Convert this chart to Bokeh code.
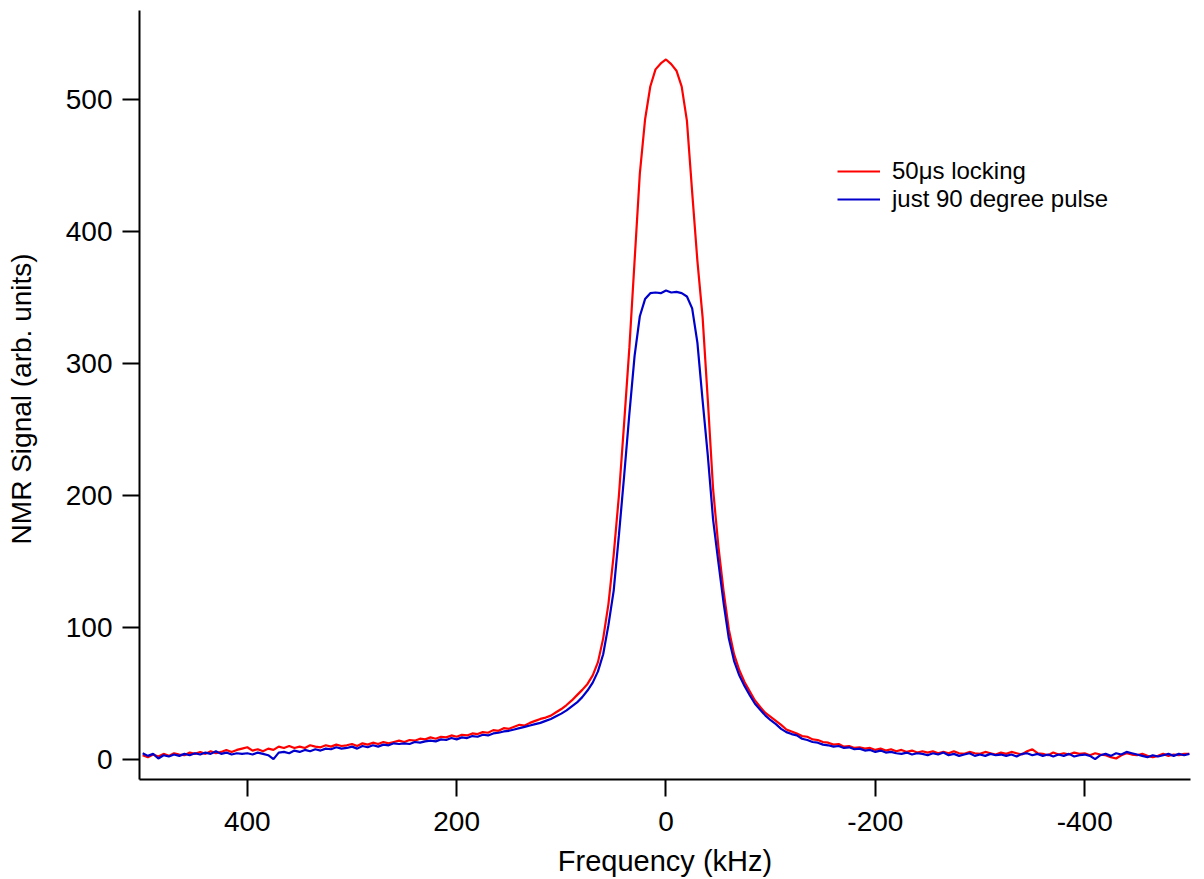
from bokeh.plotting import figure
from bokeh.models import Range1d, FixedTicker, Legend, LegendItem
from bokeh.embed import file_html
from bokeh.resources import INLINE

# Frequency grid (kHz), descending, 5 kHz step
freq = list(range(500, -501, -5))

# "50μs locking" (red), 500 -> -500 kHz
locking = [
    3.5, 2.0, 4.0, 2.5, 4.5, 3.0, 5.0, 4.0, 3.5, 5.5,
    4.5, 6.0, 4.5, 6.5, 5.0, 6.0, 7.5, 6.0, 7.5, 8.5,
    9.5, 7.0, 8.0, 6.5, 8.5, 7.5, 10.0, 9.0, 10.5, 9.0,
    10.0, 9.0, 11.0, 10.0, 9.5, 11.0, 10.0, 11.5, 10.5, 11.0,
    12.0, 10.5, 12.5, 11.5, 13.0, 12.0, 13.5, 12.5, 13.5, 14.5,
    13.5, 15.0, 14.5, 16.0, 15.5, 17.0, 16.0, 17.5, 17.0, 18.5,
    17.5, 19.0, 18.5, 20.0, 19.5, 21.0, 20.5, 22.5, 22.0, 24.0,
    23.5, 25.0, 26.5, 26.0, 28.0, 29.5, 31.0, 32.0, 33.5, 36.0,
    38.5, 41.5, 45.0, 49.0, 53.0, 57.5, 64.0, 74.0, 92.0, 118.0,
    155.0, 200.0, 255.0, 312.0, 378.0, 444.0, 485.0, 510.0, 523.0, 527.5,
    530.5, 527.0, 522.0, 510.0, 484.0, 430.0, 378.0, 335.0, 272.0, 205.0,
    162.0, 128.0, 99.0, 80.0, 68.0, 59.0, 52.0, 45.0, 40.0, 35.5,
    32.5, 29.5, 26.5, 23.0, 21.5, 20.0, 18.0, 17.5, 15.5, 15.0,
    13.5, 13.0, 11.5, 12.0, 10.0, 10.5, 9.0, 9.5, 8.5, 9.0,
    7.5, 8.5, 7.0, 8.0, 6.5, 7.5, 6.0, 7.0, 5.5, 6.5,
    5.5, 6.5, 5.0, 6.0, 5.0, 6.5, 5.0, 4.5, 6.0, 5.0,
    4.5, 6.0, 5.0, 4.0, 5.5, 4.5, 6.0, 5.0, 4.0, 6.5,
    8.0, 5.0, 4.5, 3.5, 5.5, 4.0, 5.0, 4.0, 5.5, 4.5,
    5.0, 3.5, 5.0, 4.0, 3.5, 2.0, 1.0, 3.5, 5.0, 4.0,
    3.5, 4.5, 3.0, 2.0, 3.0, 4.5, 3.0, 4.0, 3.5, 4.5,
    4.5,
]

# "just 90 degree pulse" (blue)
pulse90 = [
    5.0, 3.0, 4.5, 1.0, 3.5, 2.5, 4.0, 3.0, 4.5, 3.5,
    5.0, 4.0, 5.5, 4.5, 6.5, 4.5, 5.5, 4.0, 5.0, 4.5,
    5.0, 4.0, 5.5, 4.5, 3.5, 0.5, 5.5, 6.0, 5.0, 7.0,
    6.0, 7.5, 6.5, 8.0, 7.0, 8.5, 8.0, 9.5, 8.5, 9.0,
    10.0, 8.5, 10.5, 9.5, 11.0, 10.0, 11.5, 11.0, 12.5, 12.0,
    12.5, 12.0, 13.5, 13.0, 14.0, 14.5, 14.0, 15.5, 15.0, 16.5,
    15.5, 17.0, 16.5, 18.0, 17.5, 19.0, 18.5, 20.0, 20.5, 21.5,
    22.0, 23.0, 24.0, 25.0, 26.0, 27.0, 28.0, 29.5, 31.0, 33.0,
    35.0, 37.5, 40.5, 43.5, 47.5, 52.5, 58.5, 67.0, 80.0, 102.0,
    128.0, 170.0, 215.0, 262.0, 306.0, 336.0, 349.0, 353.5, 354.0, 353.5,
    355.5, 354.0, 354.5, 353.5, 351.0, 342.0, 316.0, 272.0, 230.0, 182.0,
    150.0, 119.0, 92.0, 75.0, 64.0, 56.0, 49.0, 42.5, 38.0, 33.5,
    30.0, 27.0, 23.5, 21.0, 19.5, 18.5, 16.0, 15.0, 13.5, 13.0,
    11.5, 11.0, 10.0, 10.5, 9.0, 9.5, 8.0, 8.5, 7.0, 7.5,
    6.0, 7.0, 5.5, 6.0, 5.0, 4.5, 5.5, 4.0, 5.0, 4.5,
    3.5, 5.0, 4.0, 5.5, 3.5, 4.5, 3.0, 4.0, 5.0, 3.0,
    4.0, 3.0, 4.5, 3.5, 4.0, 3.0, 4.0, 2.5, 4.5, 5.0,
    3.5, 4.5, 3.0, 4.0, 2.5, 4.0, 3.0, 4.5, 2.5, 3.5,
    4.0, 3.0, 0.5, 3.5, 4.5, 3.0, 5.0, 4.0, 6.0, 5.0,
    4.0, 3.0, 2.0, 3.5, 2.5, 3.5, 4.5, 3.0, 4.5, 3.5,
    4.5,
]

x_ticks = [400, 200, 0, -200, -400]
x_tick_labels = ["400", "200", "0", "-200", "-400"]
y_ticks = [0, 100, 200, 300, 400, 500]
series_names = ["50\u03bcs locking", "just 90 degree pulse"]
x_title = "Frequency (kHz)"
y_title = "NMR Signal  (arb. units)"

FONT = "Liberation Sans"

p = figure(
    width=1204, height=879,
    x_range=Range1d(503, -501.1), y_range=Range1d(-14.9, 567.6),
    output_backend="svg", toolbar_location=None,
    min_border_left=139, min_border_right=14, min_border_top=10, min_border_bottom=100,
)
p.outline_line_color = None
p.xgrid.visible = False
p.ygrid.visible = False
p.background_fill_color = "white"
p.border_fill_color = "white"

r_red = p.line(freq, locking, line_color="#ff0000", line_width=2.2)
r_blue = p.line(freq, pulse90, line_color="#0000cc", line_width=2.2)

for ax, ticks in ((p.xaxis[0], x_ticks), (p.yaxis[0], y_ticks)):
    ax.ticker = FixedTicker(ticks=ticks, minor_ticks=[])
    ax.axis_line_width = 2
    ax.axis_line_color = "black"
    ax.major_tick_line_width = 2
    ax.major_tick_line_color = "black"
    ax.major_tick_out = 17
    ax.major_tick_in = 0
    ax.minor_tick_out = 0
    ax.minor_tick_in = 0
    ax.major_label_text_font = FONT
    ax.major_label_text_font_size = "28px"
    ax.major_label_text_color = "black"
    ax.axis_label_text_font = FONT
    ax.axis_label_text_font_style = "normal"
    ax.axis_label_text_color = "black"

p.xaxis[0].major_label_overrides = {t: s for t, s in zip(x_ticks, x_tick_labels)}
p.xaxis[0].axis_label = x_title
p.xaxis[0].axis_label_text_font_size = "29px"
p.yaxis[0].axis_label = y_title
p.yaxis[0].axis_label_text_font_size = "28px"
p.xaxis[0].major_label_standoff = 15
p.xaxis[0].axis_label_standoff = 11
p.yaxis[0].major_label_standoff = 10
p.yaxis[0].axis_label_standoff = 26

legend = Legend(
    items=[LegendItem(label=series_names[0], renderers=[r_red]),
           LegendItem(label=series_names[1], renderers=[r_blue])],
    location=(698, 566),
    glyph_width=43, glyph_height=20, label_height=20,
    label_standoff=12, spacing=0, padding=0, margin=0,
    border_line_color=None, background_fill_alpha=0,
    label_text_font=FONT, label_text_font_size="24px", label_text_color="black",
)
p.add_layout(legend)

open("out.html", "w").write(file_html(p, INLINE))
